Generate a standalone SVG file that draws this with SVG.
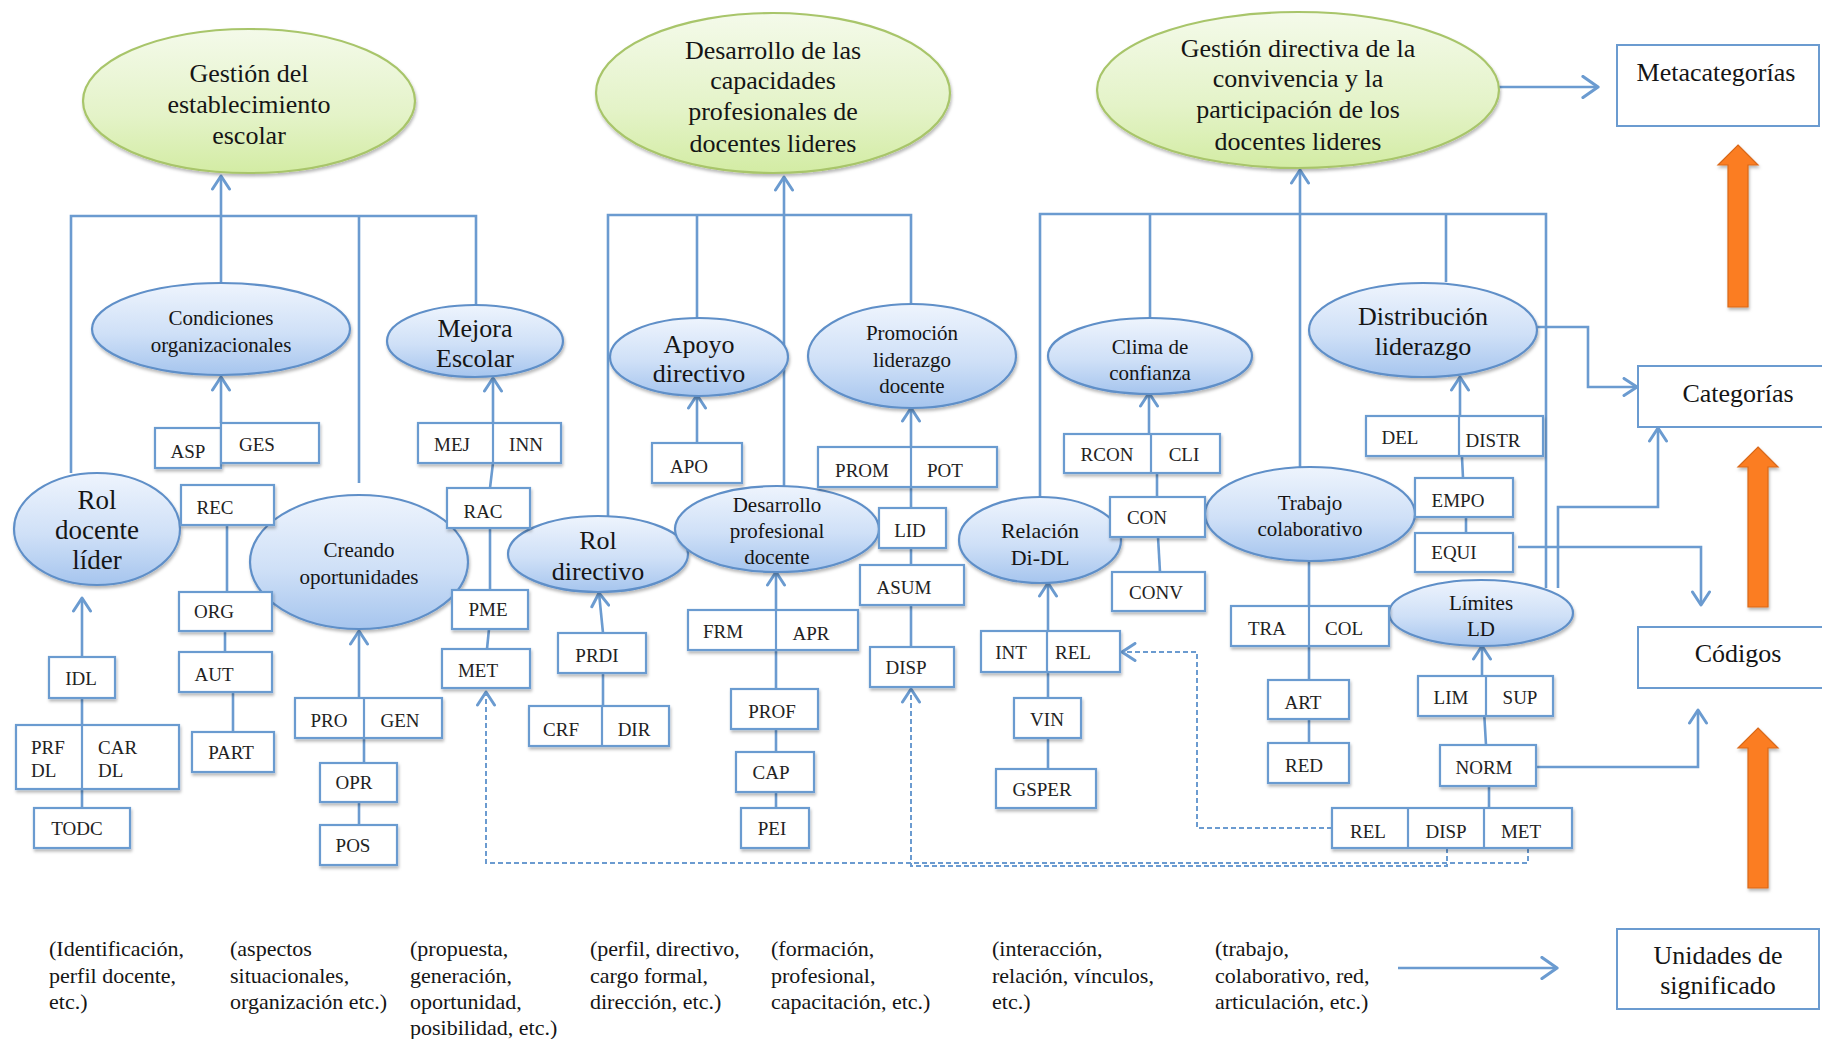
<svg xmlns="http://www.w3.org/2000/svg" width="1822" height="1039" viewBox="0 0 1822 1039">
  <defs>
    <linearGradient id="blueFill" x1="0" y1="0" x2="0" y2="1">
      <stop offset="0" stop-color="#eef4fd"/>
      <stop offset="0.55" stop-color="#cfe0f7"/>
      <stop offset="1" stop-color="#a6c5ee"/>
    </linearGradient>
    <linearGradient id="greenFill" x1="0" y1="0" x2="0" y2="1">
      <stop offset="0" stop-color="#f4faea"/>
      <stop offset="0.6" stop-color="#e4f3c8"/>
      <stop offset="1" stop-color="#d3eca4"/>
    </linearGradient>
    <filter id="shadow" x="-10%" y="-10%" width="130%" height="140%">
      <feDropShadow dx="1" dy="2.5" stdDeviation="1.5" flood-color="#000" flood-opacity="0.28"/>
    </filter>
    <marker id="ah" viewBox="0 0 18 20" refX="15" refY="10" markerWidth="18" markerHeight="20" markerUnits="userSpaceOnUse" orient="auto">
      <path d="M2,1.5 L15,10 L2,18.5" fill="none" stroke="#6b9bd0" stroke-width="3" stroke-linecap="round" stroke-linejoin="round"/>
    </marker>
    <marker id="ahBig" viewBox="0 0 20 24" refX="17" refY="12" markerWidth="20" markerHeight="24" markerUnits="userSpaceOnUse" orient="auto">
      <path d="M2,1.5 L17,12 L2,22.5" fill="none" stroke="#6b9bd0" stroke-width="3.2" stroke-linecap="round" stroke-linejoin="round"/>
    </marker>
  </defs>
  <style>
    .ln { fill: none; stroke: #6b9bd0; stroke-width: 2.6; }
    .dash { fill: none; stroke: #6b9bd0; stroke-width: 2; stroke-dasharray: 5 3; }
    .box { fill: #ffffff; stroke: #6b9bd0; stroke-width: 2.2; filter: url(#shadow); }
    .div { stroke: #6b9bd0; stroke-width: 2.2; }
    .frame { fill: #ffffff; stroke: #6b9bd0; stroke-width: 2; }
    .blue { fill: url(#blueFill); stroke: #5f8fc8; stroke-width: 2.2; filter: url(#shadow); }
    .green { fill: url(#greenFill); stroke: #a8c56a; stroke-width: 2.2; filter: url(#shadow); }
    .orange { fill: #fb7d22; stroke: #d9681a; stroke-width: 1.2; filter: url(#shadow); }
    text { font-family: "Liberation Serif", "Times New Roman", serif; fill: #151515; }
    .c { text-anchor: middle; }
    .code { font-size: 19px; fill: #222; }
    .big { font-size: 26px; }
    .mid { font-size: 21px; }
    .note { font-size: 22px; }
  </style>

  <!-- connectors -->
  <g id="connectors">
    <!-- metacategory buses -->
    <path class="ln" d="M71,473 V216 H476 V305"/>
    <path class="ln" d="M359,216 V483"/>
    <path class="ln" d="M221,283 V176" marker-end="url(#ah)"/>
    <path class="ln" d="M608,516 V215 H911 V304"/>
    <path class="ln" d="M697,215 V318"/>
    <path class="ln" d="M784,487 V177" marker-end="url(#ah)"/>
    <path class="ln" d="M1040,497 V214 H1546 V588"/>
    <path class="ln" d="M1150,214 V318"/>
    <path class="ln" d="M1446,214 V282"/>
    <path class="ln" d="M1300,467 V170" marker-end="url(#ah)"/>

    <!-- Gestión del establecimiento escolar: codes -->
    <path class="ln" d="M82,657 V598" marker-end="url(#ah)"/>
    <path class="ln" d="M82,698 V808"/>
    <path class="ln" d="M221,423 V377" marker-end="url(#ah)"/>
    <path class="ln" d="M227,525 V592"/>
    <path class="ln" d="M225,631 V652"/>
    <path class="ln" d="M233,692 V732"/>
    <path class="ln" d="M359,698 V631" marker-end="url(#ah)"/>
    <path class="ln" d="M364,738 V763"/>
    <path class="ln" d="M359,802 V825"/>
    <path class="ln" d="M490,488 L493,463 V378" marker-end="url(#ah)"/>
    <path class="ln" d="M490,528 V590"/>
    <path class="ln" d="M489,629 L487,649"/>

    <!-- Desarrollo de las capacidades: codes -->
    <path class="ln" d="M697,443 V395" marker-end="url(#ah)"/>
    <path class="ln" d="M603,633 L599,593" marker-end="url(#ah)"/>
    <path class="ln" d="M603,673 V706"/>
    <path class="ln" d="M776,689 V572" marker-end="url(#ah)"/>
    <path class="ln" d="M776,729 V752"/>
    <path class="ln" d="M776,792 V808"/>
    <path class="ln" d="M911,647 V408" marker-end="url(#ah)"/>

    <!-- Gestión directiva de la convivencia: codes -->
    <path class="ln" d="M1048,698 V583" marker-end="url(#ah)"/>
    <path class="ln" d="M1048,738 V769"/>
    <path class="ln" d="M1149,434 V393" marker-end="url(#ah)"/>
    <path class="ln" d="M1157,473 V497"/>
    <path class="ln" d="M1158,537 L1160,572"/>
    <path class="ln" d="M1309,561 V680"/>
    <path class="ln" d="M1309,719 V743"/>
    <path class="ln" d="M1463,478 L1460,416 V377" marker-end="url(#ah)"/>
    <path class="ln" d="M1466,517 V533"/>
    <path class="ln" d="M1486,745 L1482,676 V646" marker-end="url(#ah)"/>
    <path class="ln" d="M1489,786 V808"/>

    <!-- links to the level legend -->
    <path class="ln" d="M1558,588 V507 H1658 V428" marker-end="url(#ah)"/>
    <path class="ln" d="M1537,327 H1588 V387 H1637" marker-end="url(#ah)"/>
    <path class="ln" d="M1518,547 H1701 V605" marker-end="url(#ah)"/>
    <path class="ln" d="M1536,767 H1698 V710" marker-end="url(#ah)"/>
    <path class="ln" d="M1499,87 H1598" marker-end="url(#ahBig)"/>
    <path class="ln" d="M1398,968 H1557" marker-end="url(#ahBig)"/>

    <!-- shared codes (dashed) -->
    <path class="dash" d="M1528,848 V863 H486 V692" marker-end="url(#ah)"/>
    <path class="dash" d="M1447,848 V866 H911 V689" marker-end="url(#ah)"/>
    <path class="dash" d="M1332,828 H1197 V652 H1122" marker-end="url(#ah)"/>
  </g>

  <!-- metacategories -->
  <g id="meta-gestion-establecimiento">
    <ellipse class="green" cx="249" cy="101" rx="166" ry="72"/>
    <text class="c big"><tspan x="249" y="82">Gestión del</tspan><tspan x="249" y="113">establecimiento</tspan><tspan x="249" y="144">escolar</tspan></text>
  </g>
  <g id="meta-desarrollo-capacidades">
    <ellipse class="green" cx="773" cy="93" rx="177" ry="80"/>
    <text class="c big"><tspan x="773" y="59">Desarrollo de las</tspan><tspan x="773" y="89">capacidades</tspan><tspan x="773" y="120">profesionales de</tspan><tspan x="773" y="152">docentes lideres</tspan></text>
  </g>
  <g id="meta-gestion-convivencia">
    <ellipse class="green" cx="1298" cy="90" rx="201" ry="78"/>
    <text class="c big"><tspan x="1298" y="57">Gestión directiva de la</tspan><tspan x="1298" y="87">convivencia y la</tspan><tspan x="1298" y="118">participación de los</tspan><tspan x="1298" y="150">docentes lideres</tspan></text>
  </g>

  <!-- categories -->
  <g id="cat-rol-docente">
    <ellipse class="blue" cx="97" cy="529" rx="83" ry="56"/>
    <text class="c" font-size="27"><tspan x="97" y="509">Rol</tspan><tspan x="97" y="539">docente</tspan><tspan x="97" y="569">líder</tspan></text>
  </g>
  <g id="cat-condiciones">
    <ellipse class="blue" cx="221" cy="329" rx="129" ry="46"/>
    <text class="c mid"><tspan x="221" y="325">Condiciones</tspan><tspan x="221" y="352">organizacionales</tspan></text>
  </g>
  <g id="cat-mejora">
    <ellipse class="blue" cx="475" cy="341" rx="88" ry="36"/>
    <text class="c big"><tspan x="475" y="337">Mejora</tspan><tspan x="475" y="367">Escolar</tspan></text>
  </g>
  <g id="cat-creando">
    <ellipse class="blue" cx="359" cy="562" rx="109" ry="67"/>
    <text class="c mid"><tspan x="359" y="557">Creando</tspan><tspan x="359" y="584">oportunidades</tspan></text>
  </g>
  <g id="cat-rol-directivo">
    <ellipse class="blue" cx="598" cy="554" rx="90" ry="38"/>
    <text class="c big"><tspan x="598" y="549">Rol</tspan><tspan x="598" y="580">directivo</tspan></text>
  </g>
  <g id="cat-apoyo">
    <ellipse class="blue" cx="699" cy="357" rx="89" ry="39"/>
    <text class="c big"><tspan x="699" y="353">Apoyo</tspan><tspan x="699" y="382">directivo</tspan></text>
  </g>
  <g id="cat-desarrollo-profesional">
    <ellipse class="blue" cx="777" cy="529" rx="102" ry="43"/>
    <text class="c mid"><tspan x="777" y="512">Desarrollo</tspan><tspan x="777" y="538">profesional</tspan><tspan x="777" y="564">docente</tspan></text>
  </g>
  <g id="cat-promocion">
    <ellipse class="blue" cx="912" cy="356" rx="104" ry="52"/>
    <text class="c mid"><tspan x="912" y="340">Promoción</tspan><tspan x="912" y="367">liderazgo</tspan><tspan x="912" y="393">docente</tspan></text>
  </g>
  <g id="cat-relacion">
    <ellipse class="blue" cx="1040" cy="540" rx="81" ry="43"/>
    <text class="c" font-size="22"><tspan x="1040" y="538">Relación</tspan><tspan x="1040" y="565">Di-DL</tspan></text>
  </g>
  <g id="cat-clima">
    <ellipse class="blue" cx="1150" cy="356" rx="102" ry="38"/>
    <text class="c mid"><tspan x="1150" y="354">Clima de</tspan><tspan x="1150" y="380">confianza</tspan></text>
  </g>
  <g id="cat-trabajo">
    <ellipse class="blue" cx="1310" cy="514" rx="105" ry="47"/>
    <text class="c mid"><tspan x="1310" y="510">Trabajo</tspan><tspan x="1310" y="536">colaborativo</tspan></text>
  </g>
  <g id="cat-distribucion">
    <ellipse class="blue" cx="1423" cy="330" rx="114" ry="47"/>
    <text class="c big"><tspan x="1423" y="325">Distribución</tspan><tspan x="1423" y="355">liderazgo</tspan></text>
  </g>
  <g id="cat-limites">
    <ellipse class="blue" cx="1481" cy="613" rx="92" ry="33"/>
    <text class="c mid"><tspan x="1481" y="610">Límites</tspan><tspan x="1481" y="636">LD</tspan></text>
  </g>

  <!-- codes -->
  <g id="code-asp-ges">
    <rect class="box" x="155" y="428" width="66" height="40"/>
    <rect class="box" x="221" y="423" width="98" height="40"/>
    <text class="c code" x="188" y="458">ASP</text>
    <text class="c code" x="257" y="451">GES</text>
  </g>
  <g id="code-rec"><rect class="box" x="181" y="485" width="93" height="40"/><text class="c code" x="215" y="514">REC</text></g>
  <g id="code-org"><rect class="box" x="179" y="592" width="93" height="39"/><text class="c code" x="214" y="618">ORG</text></g>
  <g id="code-aut"><rect class="box" x="179" y="652" width="93" height="40"/><text class="c code" x="214" y="681">AUT</text></g>
  <g id="code-part"><rect class="box" x="192" y="732" width="82" height="40"/><text class="c code" x="231" y="759">PART</text></g>
  <g id="code-idl"><rect class="box" x="49" y="657" width="66" height="41"/><text class="c code" x="81" y="685">IDL</text></g>
  <g id="code-prf-car">
    <rect class="box" x="16" y="725" width="163" height="64"/>
    <line class="div" x1="82" y1="725" x2="82" y2="789"/>
    <text class="code"><tspan x="31" y="754">PRF</tspan><tspan x="31" y="777">DL</tspan></text>
    <text class="code"><tspan x="98" y="754">CAR</tspan><tspan x="98" y="777">DL</tspan></text>
  </g>
  <g id="code-todc"><rect class="box" x="34" y="808" width="96" height="40"/><text class="c code" x="77" y="835">TODC</text></g>
  <g id="code-pro-gen">
    <rect class="box" x="295" y="698" width="147" height="40"/>
    <line class="div" x1="364" y1="698" x2="364" y2="738"/>
    <text class="c code" x="329" y="727">PRO</text>
    <text class="c code" x="400" y="727">GEN</text>
  </g>
  <g id="code-opr"><rect class="box" x="320" y="763" width="77" height="39"/><text class="c code" x="354" y="789">OPR</text></g>
  <g id="code-pos"><rect class="box" x="320" y="825" width="77" height="40"/><text class="c code" x="353" y="852">POS</text></g>
  <g id="code-mej-inn">
    <rect class="box" x="418" y="423" width="143" height="40"/>
    <line class="div" x1="493" y1="423" x2="493" y2="463"/>
    <text class="c code" x="452" y="451">MEJ</text>
    <text class="c code" x="526" y="451">INN</text>
  </g>
  <g id="code-rac"><rect class="box" x="447" y="488" width="83" height="40"/><text class="c code" x="483" y="518">RAC</text></g>
  <g id="code-pme"><rect class="box" x="452" y="590" width="76" height="39"/><text class="c code" x="488" y="616">PME</text></g>
  <g id="code-met-a"><rect class="box" x="442" y="649" width="88" height="39"/><text class="c code" x="478" y="677">MET</text></g>
  <g id="code-apo"><rect class="box" x="652" y="443" width="90" height="40"/><text class="c code" x="689" y="473">APO</text></g>
  <g id="code-prdi"><rect class="box" x="558" y="633" width="88" height="40"/><text class="c code" x="597" y="662">PRDI</text></g>
  <g id="code-crf-dir">
    <rect class="box" x="529" y="706" width="140" height="40"/>
    <line class="div" x1="602" y1="706" x2="602" y2="746"/>
    <text class="c code" x="561" y="736">CRF</text>
    <text class="c code" x="634" y="736">DIR</text>
  </g>
  <g id="code-frm-apr">
    <rect class="box" x="688" y="610" width="170" height="40"/>
    <line class="div" x1="776" y1="610" x2="776" y2="650"/>
    <text class="c code" x="723" y="638">FRM</text>
    <text class="c code" x="811" y="640">APR</text>
  </g>
  <g id="code-prof"><rect class="box" x="731" y="689" width="87" height="40"/><text class="c code" x="772" y="718">PROF</text></g>
  <g id="code-cap"><rect class="box" x="736" y="752" width="78" height="40"/><text class="c code" x="771" y="779">CAP</text></g>
  <g id="code-pei"><rect class="box" x="741" y="808" width="68" height="40"/><text class="c code" x="772" y="835">PEI</text></g>
  <g id="code-prom-pot">
    <rect class="box" x="818" y="447" width="179" height="40"/>
    <line class="div" x1="911" y1="447" x2="911" y2="487"/>
    <text class="c code" x="862" y="477">PROM</text>
    <text class="c code" x="945" y="477">POT</text>
  </g>
  <g id="code-lid"><rect class="box" x="879" y="508" width="67" height="40"/><text class="c code" x="910" y="537">LID</text></g>
  <g id="code-asum"><rect class="box" x="860" y="565" width="104" height="40"/><text class="c code" x="904" y="594">ASUM</text></g>
  <g id="code-disp-a"><rect class="box" x="870" y="647" width="84" height="40"/><text class="c code" x="906" y="674">DISP</text></g>
  <g id="code-int-rel">
    <rect class="box" x="981" y="631" width="139" height="41"/>
    <line class="div" x1="1047" y1="631" x2="1047" y2="672"/>
    <text class="c code" x="1011" y="659">INT</text>
    <text class="c code" x="1073" y="659">REL</text>
  </g>
  <g id="code-vin"><rect class="box" x="1014" y="698" width="67" height="40"/><text class="c code" x="1047" y="726">VIN</text></g>
  <g id="code-gsper"><rect class="box" x="996" y="769" width="100" height="39"/><text class="c code" x="1042" y="796">GSPER</text></g>
  <g id="code-rcon-cli">
    <rect class="box" x="1064" y="434" width="156" height="39"/>
    <line class="div" x1="1151" y1="434" x2="1151" y2="473"/>
    <text class="c code" x="1107" y="461">RCON</text>
    <text class="c code" x="1184" y="461">CLI</text>
  </g>
  <g id="code-con"><rect class="box" x="1110" y="497" width="95" height="40"/><text class="c code" x="1147" y="524">CON</text></g>
  <g id="code-conv"><rect class="box" x="1112" y="572" width="93" height="39"/><text class="c code" x="1156" y="599">CONV</text></g>
  <g id="code-tra-col">
    <rect class="box" x="1231" y="606" width="158" height="40"/>
    <line class="div" x1="1309" y1="606" x2="1309" y2="646"/>
    <text class="c code" x="1267" y="635">TRA</text>
    <text class="c code" x="1344" y="635">COL</text>
  </g>
  <g id="code-art"><rect class="box" x="1268" y="680" width="81" height="39"/><text class="c code" x="1303" y="709">ART</text></g>
  <g id="code-red"><rect class="box" x="1268" y="743" width="81" height="40"/><text class="c code" x="1304" y="772">RED</text></g>
  <g id="code-del-distr">
    <rect class="box" x="1366" y="416" width="177" height="40"/>
    <line class="div" x1="1459" y1="416" x2="1459" y2="456"/>
    <text class="c code" x="1400" y="444">DEL</text>
    <text class="c code" x="1493" y="447">DISTR</text>
  </g>
  <g id="code-empo"><rect class="box" x="1415" y="478" width="98" height="39"/><text class="c code" x="1458" y="507">EMPO</text></g>
  <g id="code-equi"><rect class="box" x="1415" y="533" width="98" height="39"/><text class="c code" x="1454" y="559">EQUI</text></g>
  <g id="code-lim-sup">
    <rect class="box" x="1418" y="676" width="135" height="40"/>
    <line class="div" x1="1486" y1="676" x2="1486" y2="716"/>
    <text class="c code" x="1451" y="704">LIM</text>
    <text class="c code" x="1520" y="704">SUP</text>
  </g>
  <g id="code-norm"><rect class="box" x="1440" y="745" width="96" height="41"/><text class="c code" x="1484" y="774">NORM</text></g>
  <g id="code-rel-disp-met">
    <rect class="box" x="1332" y="808" width="240" height="40"/>
    <line class="div" x1="1408" y1="808" x2="1408" y2="848"/>
    <line class="div" x1="1484" y1="808" x2="1484" y2="848"/>
    <text class="c code" x="1368" y="838">REL</text>
    <text class="c code" x="1446" y="838">DISP</text>
    <text class="c code" x="1521" y="838">MET</text>
  </g>

  <!-- level legend -->
  <g id="level-metacategorias">
    <rect class="frame" x="1617" y="45" width="202" height="81"/>
    <text class="c big" x="1716" y="81">Metacategorías</text>
  </g>
  <g id="level-categorias">
    <rect class="frame" x="1638" y="366" width="200" height="61"/>
    <text class="c big" x="1738" y="402">Categorías</text>
  </g>
  <g id="level-codigos">
    <rect class="frame" x="1638" y="627" width="200" height="61"/>
    <text class="c big" x="1738" y="662">Códigos</text>
  </g>
  <g id="level-unidades">
    <rect class="frame" x="1617" y="929" width="202" height="80"/>
    <text class="c big"><tspan x="1718" y="964">Unidades de</tspan><tspan x="1718" y="994">significado</tspan></text>
  </g>
  <g id="level-arrows">
    <path class="orange" d="M1738,145 L1758,165 H1748 V307 H1728 V165 H1718 Z"/>
    <path class="orange" d="M1758,447 L1778,467 H1768 V607 H1748 V467 H1738 Z"/>
    <path class="orange" d="M1758,728 L1778,748 H1768 V888 H1748 V748 H1738 Z"/>
  </g>

  <!-- units of meaning -->
  <g id="unidades-texto" class="note">
    <text><tspan x="49" y="956">(Identificación,</tspan><tspan x="49" y="983">perfil docente,</tspan><tspan x="49" y="1009">etc.)</tspan></text>
    <text><tspan x="230" y="956">(aspectos</tspan><tspan x="230" y="983">situacionales,</tspan><tspan x="230" y="1009">organización etc.)</tspan></text>
    <text><tspan x="410" y="956">(propuesta,</tspan><tspan x="410" y="983">generación,</tspan><tspan x="410" y="1009">oportunidad,</tspan><tspan x="410" y="1035">posibilidad, etc.)</tspan></text>
    <text><tspan x="590" y="956">(perfil, directivo,</tspan><tspan x="590" y="983">cargo formal,</tspan><tspan x="590" y="1009">dirección, etc.)</tspan></text>
    <text><tspan x="771" y="956">(formación,</tspan><tspan x="771" y="983">profesional,</tspan><tspan x="771" y="1009">capacitación, etc.)</tspan></text>
    <text><tspan x="992" y="956">(interacción,</tspan><tspan x="992" y="983">relación, vínculos,</tspan><tspan x="992" y="1009">etc.)</tspan></text>
    <text><tspan x="1215" y="956">(trabajo,</tspan><tspan x="1215" y="983">colaborativo, red,</tspan><tspan x="1215" y="1009">articulación, etc.)</tspan></text>
  </g>
</svg>
